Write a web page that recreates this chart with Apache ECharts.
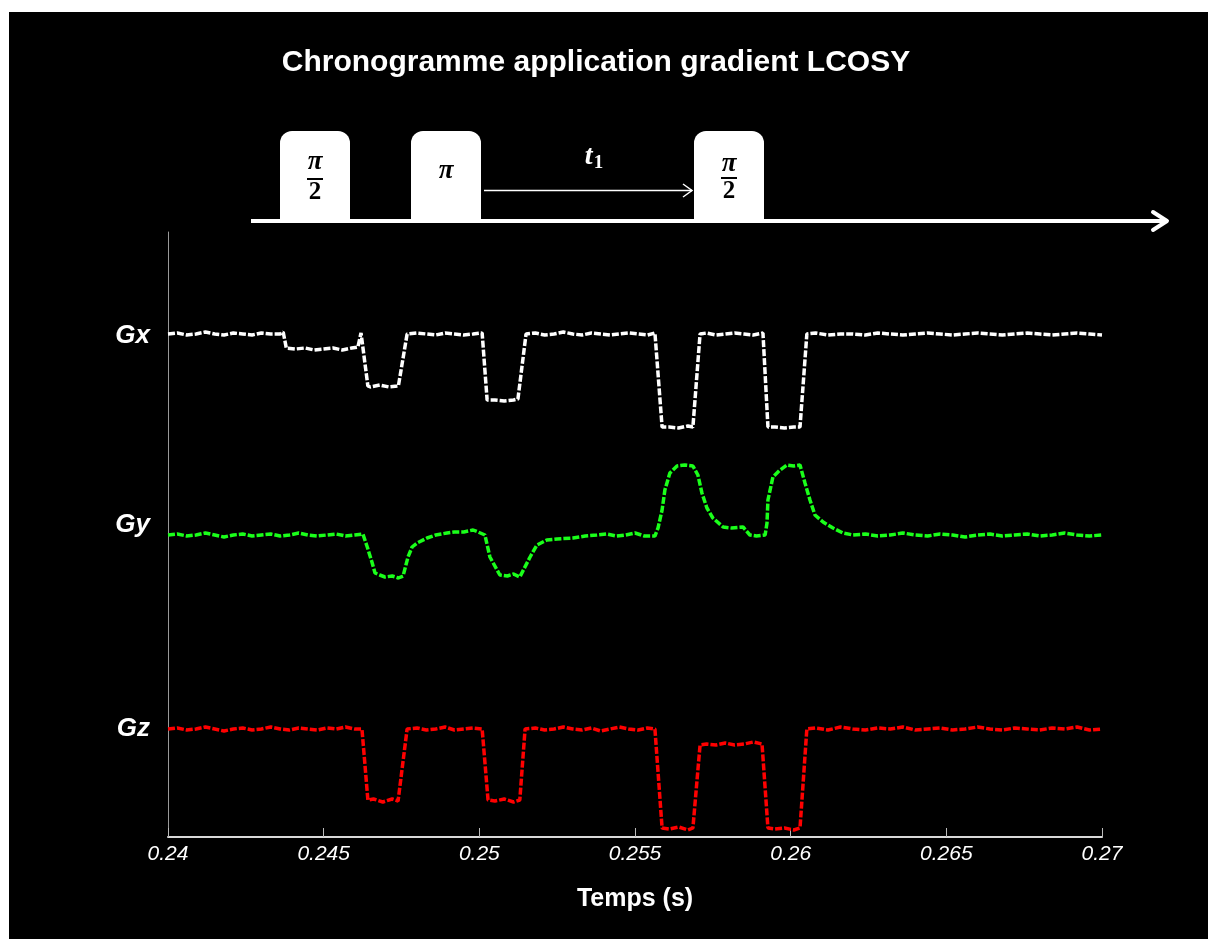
<!DOCTYPE html>
<html>
<head>
<meta charset="utf-8">
<title>Chronogramme LCOSY</title>
<script src="https://cdn.jsdelivr.net/npm/echarts@6/dist/echarts.min.js"></script>
<style>
  html, body { margin: 0; padding: 0; background: #fff; }
  #main { position: absolute; left: 9px; top: 12px; width: 1199px; height: 927px; }
</style>
</head>
<body>
<div id="main"></div>
<script>
// time axis ticks (s)
const xTicks = { min: 0.24, max: 0.27, step: 0.005 }

// gradient traces, [time (s), level (arb. units)]
const gx = [
  [0.2400, 503], [0.2403, 504], [0.2406, 502], [0.2409, 503], [0.2412, 505], [0.2415, 503],
  [0.2418, 502], [0.2421, 504], [0.2424, 503], [0.2427, 502], [0.2430, 504], [0.2433, 503],
  [0.2436, 503], [0.2437, 505], [0.24375, 497], [0.2438, 489], [0.2441, 488], [0.2444, 489],
  [0.2447, 487], [0.2450, 488], [0.2453, 489], [0.2456, 487], [0.2459, 489], [0.2461, 490],
  [0.2462, 504], [0.24642, 451], [0.2465, 450], [0.2468, 452], [0.2471, 450], [0.2474, 451],
  [0.24745, 452], [0.24768, 503], [0.2480, 504], [0.2483, 503], [0.2486, 502], [0.2489, 504],
  [0.2492, 503], [0.2495, 502], [0.2498, 503], [0.25009, 504], [0.25025, 437], [0.2505, 437],
  [0.2508, 436], [0.2511, 437], [0.25124, 438], [0.2515, 503], [0.2518, 504], [0.2521, 502],
  [0.2524, 503], [0.2527, 505], [0.2530, 503], [0.2533, 502], [0.2536, 504], [0.2539, 503],
  [0.2542, 502], [0.2545, 503], [0.2548, 504], [0.2551, 503], [0.2554, 502], [0.25564, 504],
  [0.25587, 410], [0.2561, 410], [0.2564, 409], [0.2567, 411], [0.25686, 410], [0.25709, 503],
  [0.2573, 504], [0.2576, 502], [0.2579, 503], [0.2582, 504], [0.2585, 503], [0.2588, 502],
  [0.25911, 504], [0.25927, 410], [0.2595, 410], [0.2598, 409], [0.2601, 410], [0.2603, 410],
  [0.26052, 503], [0.2608, 504], [0.2612, 502], [0.2616, 503], [0.2620, 503], [0.2624, 502],
  [0.2628, 504], [0.2632, 503], [0.2636, 502], [0.2640, 503], [0.2644, 504], [0.2648, 503],
  [0.2652, 502], [0.2656, 503], [0.2660, 504], [0.2664, 503], [0.2668, 502], [0.2672, 503],
  [0.2676, 504], [0.2680, 503], [0.2684, 502], [0.2688, 503], [0.2692, 504], [0.2696, 503],
  [0.2700, 502]
]

const gy = [
  [0.2400, 302], [0.2403, 303], [0.2406, 301], [0.2409, 302], [0.2412, 304], [0.2415, 302],
  [0.2418, 300], [0.2421, 302], [0.2424, 303], [0.2427, 301], [0.2430, 302], [0.2433, 303],
  [0.2436, 301], [0.2439, 302], [0.2442, 304], [0.2445, 302], [0.2448, 301], [0.2451, 302],
  [0.2454, 303], [0.2457, 301], [0.2460, 302], [0.24626, 303], [0.24640, 290], [0.24655, 275],
  [0.24665, 264], [0.24680, 262], [0.24697, 260], [0.2472, 261], [0.2474, 259], [0.24755, 261],
  [0.24771, 280], [0.24784, 290], [0.2480, 294], [0.24832, 299], [0.2486, 302], [0.24896, 304],
  [0.2492, 305], [0.2495, 305], [0.2498, 307], [0.24996, 305], [0.25018, 302], [0.25034, 280],
  [0.25057, 267], [0.25066, 262], [0.2509, 261], [0.2511, 263], [0.2513, 260], [0.25163, 280],
  [0.25185, 292], [0.25217, 297], [0.2525, 298], [0.25301, 299], [0.2534, 301], [0.25378, 302],
  [0.2541, 303], [0.2544, 301], [0.2547, 302], [0.2550, 304], [0.2553, 301], [0.25564, 301],
  [0.25574, 309], [0.25587, 327], [0.25596, 347], [0.25612, 364], [0.25635, 371], [0.2566, 372],
  [0.25686, 371], [0.25702, 362], [0.25715, 344], [0.25731, 329], [0.2575, 319], [0.25783, 310],
  [0.2581, 309], [0.25847, 310], [0.25869, 302], [0.2589, 301], [0.25918, 302], [0.25924, 314],
  [0.25927, 337], [0.25943, 360], [0.25966, 367], [0.25988, 372], [0.2601, 371], [0.2603, 372],
  [0.26046, 354], [0.26062, 337], [0.26078, 322], [0.26104, 315], [0.26136, 309], [0.26168, 304],
  [0.2620, 302], [0.2624, 303], [0.2628, 301], [0.2632, 302], [0.2636, 304], [0.2640, 302],
  [0.2644, 301], [0.2648, 303], [0.2652, 302], [0.2656, 300], [0.2660, 302], [0.2664, 303],
  [0.2668, 301], [0.2672, 302], [0.2676, 303], [0.2680, 301], [0.2684, 302], [0.2688, 304],
  [0.2692, 302], [0.2696, 301], [0.2700, 302]
]

const gz = [
  [0.2400, 108], [0.2403, 109], [0.2406, 107], [0.2409, 108], [0.2412, 110], [0.2415, 108],
  [0.2418, 106], [0.2421, 108], [0.2424, 109], [0.2427, 107], [0.2430, 108], [0.2433, 110],
  [0.2436, 108], [0.2439, 107], [0.2442, 109], [0.2445, 108], [0.2448, 107], [0.2451, 109],
  [0.2454, 108], [0.2457, 110], [0.2460, 108], [0.24623, 108], [0.24642, 37], [0.2466, 38],
  [0.2469, 35], [0.2472, 38], [0.24739, 36], [0.24768, 108], [0.2480, 109], [0.2483, 107],
  [0.2486, 108], [0.2489, 110], [0.2492, 107], [0.2495, 108], [0.2498, 109], [0.25009, 108],
  [0.25028, 37], [0.2505, 36], [0.2508, 38], [0.2511, 35], [0.2513, 37], [0.25147, 108],
  [0.2518, 109], [0.2521, 107], [0.2524, 108], [0.2527, 110], [0.2530, 108], [0.2533, 107],
  [0.2536, 109], [0.2539, 106], [0.2542, 108], [0.2545, 110], [0.2548, 108], [0.2551, 107],
  [0.2554, 109], [0.25564, 108], [0.25587, 9], [0.2561, 8], [0.2564, 10], [0.2567, 7],
  [0.25686, 9], [0.25709, 92], [0.2573, 93], [0.2576, 92], [0.2579, 94], [0.2582, 92],
  [0.2585, 93], [0.2588, 95], [0.25908, 93], [0.25927, 9], [0.2595, 8], [0.2598, 9],
  [0.2601, 7], [0.2603, 9], [0.26052, 108], [0.2608, 109], [0.2612, 107], [0.2616, 110],
  [0.2620, 108], [0.2624, 107], [0.2628, 109], [0.2632, 108], [0.2636, 110], [0.2640, 107],
  [0.2644, 108], [0.2648, 109], [0.2652, 107], [0.2656, 108], [0.2660, 110], [0.2664, 108],
  [0.2668, 107], [0.2672, 109], [0.2676, 108], [0.2680, 107], [0.2684, 109], [0.2688, 108],
  [0.2692, 110], [0.2696, 107], [0.2700, 108]
]

const traceNames = ['Gx', 'Gy', 'Gz']
const traceColors = ['#ffffff', '#1aff1a', '#ff0000']
const traceLabelY = [324, 513, 717]

const myChart = echarts.init(document.getElementById('main'))

// pulse sequence sketch above the plot
function pulseBox (x) {
  return {
    type: 'rect',
    shape: { x: x, y: 119, width: 70, height: 91, r: [12, 12, 0, 0] },
    style: { fill: '#fff' }
  }
}
function label (text, x, y, font, fill, align) {
  return {
    type: 'text',
    x: x,
    y: y,
    style: { text: text, font: font, fill: fill || '#fff', align: align || 'center', verticalAlign: 'middle' }
  }
}
const piFont = 'italic bold 27px "Liberation Serif", serif'
const twoFont = 'bold 25px "Liberation Serif", serif'

const graphics = [
  label('Chronogramme application gradient LCOSY', 587, 51, 'bold 30px "Liberation Sans", Arial, sans-serif'),
  pulseBox(271), pulseBox(402), pulseBox(685),
  label('π', 306, 150, piFont, '#000'),
  { type: 'line', shape: { x1: 298, y1: 167, x2: 314, y2: 167 }, style: { stroke: '#000', lineWidth: 2 } },
  label('2', 306, 181, twoFont, '#000'),
  label('π', 437, 159, piFont, '#000'),
  label('π', 720, 152, piFont, '#000'),
  { type: 'line', shape: { x1: 712, y1: 166, x2: 728, y2: 166 }, style: { stroke: '#000', lineWidth: 2 } },
  label('2', 720, 180, twoFont, '#000'),
  // time axis of the sequence
  { type: 'line', shape: { x1: 242, y1: 209, x2: 1157, y2: 209 }, style: { stroke: '#fff', lineWidth: 4 } },
  { type: 'polyline', shape: { points: [[1144, 200], [1158, 209], [1144, 218]] }, style: { stroke: '#fff', lineWidth: 4, lineCap: 'round', lineJoin: 'round', fill: null } },
  // t1 delay
  { type: 'line', shape: { x1: 475, y1: 178.5, x2: 683, y2: 178.5 }, style: { stroke: '#fff', lineWidth: 1.5 } },
  { type: 'polyline', shape: { points: [[674, 172], [683, 178.5], [674, 185]] }, style: { stroke: '#fff', lineWidth: 1.5, fill: null } },
  {
    type: 'text',
    x: 585,
    y: 145,
    style: {
      text: '{t|t}{s|1}',
      align: 'center',
      verticalAlign: 'middle',
      rich: {
        t: { font: 'italic bold 28px "Liberation Serif", serif', fill: '#fff' },
        s: { font: 'bold 19px "Liberation Serif", serif', fill: '#fff', padding: [12, 0, 0, 1] }
      }
    }
  }
]
traceNames.forEach((name, i) => {
  graphics.push(label(name, 141, traceLabelY[i], 'italic bold 26px "Liberation Sans", Arial, sans-serif', '#fff', 'right'))
})

const option = {
  backgroundColor: '#000',
  animation: false,
  grid: { left: 159, right: 106, top: 220, bottom: 102 },
  xAxis: {
    type: 'value',
    min: xTicks.min,
    max: xTicks.max,
    interval: xTicks.step,
    name: 'Temps (s)',
    nameLocation: 'middle',
    nameGap: 50,
    nameTextStyle: { color: '#fff', fontSize: 25, fontWeight: 'bold', fontFamily: '"Liberation Sans", Arial, sans-serif' },
    axisLine: { lineStyle: { color: '#d9d9d9', width: 2 } },
    axisTick: { inside: true, length: 9, lineStyle: { color: '#bbb' } },
    splitLine: { show: false },
    axisLabel: {
      color: '#fff',
      fontSize: 21,
      fontStyle: 'italic',
      fontFamily: '"Liberation Sans", Arial, sans-serif',
      margin: 7,
      formatter: v => String(parseFloat(v.toFixed(3)))
    }
  },
  yAxis: {
    type: 'value',
    min: 0,
    max: 605,
    axisLine: { show: true, lineStyle: { color: '#999', width: 1 } },
    axisTick: { show: false },
    axisLabel: { show: false },
    splitLine: { show: false }
  },
  graphic: { elements: graphics },
  series: [gx, gy, gz].map((data, i) => ({
    name: traceNames[i],
    type: 'line',
    data: data,
    showSymbol: false,
    symbol: 'none',
    lineStyle: { color: traceColors[i], width: 3.5, type: [7, 2] }
  }))
}
myChart.setOption(option)
</script>
</body>
</html>
